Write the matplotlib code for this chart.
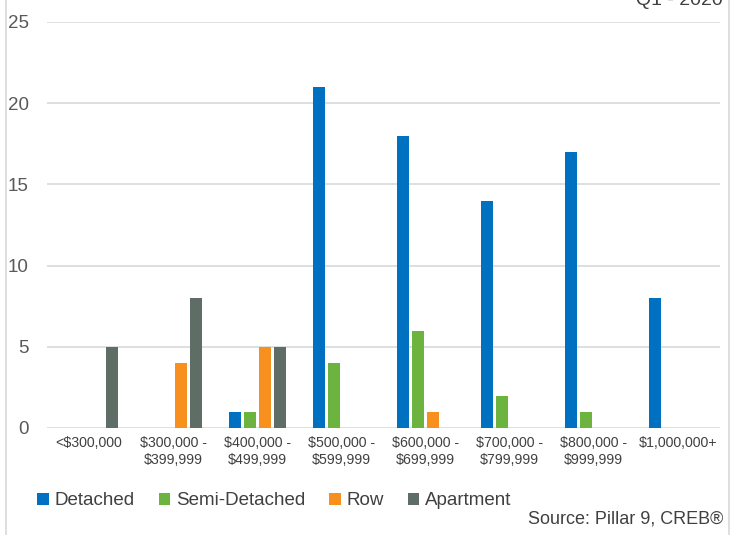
import numpy as np
import matplotlib
matplotlib.use('Agg')
import matplotlib.pyplot as plt
from matplotlib.lines import Line2D
from matplotlib.patches import Patch

plt.rcParams['font.family'] = ['Liberation Sans', 'DejaVu Sans']

# Data
categories = ['<$300,000', '$300,000 -\n$399,999', '$400,000 -\n$499,999', '$500,000 -\n$599,999',
              '$600,000 -\n$699,999', '$700,000 -\n$799,999', '$800,000 -\n$999,999', '$1,000,000+']
detached = [0, 0, 1, 21, 18, 14, 17, 8]
semi_detached = [0, 0, 1, 4, 6, 2, 1, 0]
row = [0, 4, 5, 0, 1, 0, 0, 0]
apartment = [5, 8, 5, 0, 0, 0, 0, 0]
series_names = ['Detached', 'Semi-Detached', 'Row', 'Apartment']

colors = ['#0070C0', '#6DB33F', '#F7901E', '#5E6E66']
series = [detached, semi_detached, row, apartment]

fig = plt.figure(figsize=(7.34, 5.35), dpi=100)
ax = fig.add_axes([0.064, 0.2, 0.917, 0.759])

x = np.arange(len(categories))
step = 0.18
width = 0.143
for i, (vals, c) in enumerate(zip(series, colors)):
    ax.bar(x + (i - 1.5) * step, vals, width=width, color=c, zorder=3)

ax.set_xlim(-0.5, len(categories) - 0.5)
ax.set_ylim(0, 25)
ax.set_yticks([0, 5, 10, 15, 20, 25])
ax.yaxis.grid(True, color='#D9D9D9', linewidth=1.2, zorder=0)
for s in ax.spines.values():
    s.set_visible(False)
ax.tick_params(axis='both', length=0)
ax.tick_params(axis='y', labelsize=13.5, labelcolor='#595959', pad=13)
ax.set_xticks(x)
ax.set_xticklabels(categories, fontsize=10.2, color='#404040')
ax.tick_params(axis='x', pad=6)

handles = [Patch(facecolor=c, edgecolor='none') for c in colors]
fig.legend(handles, series_names, loc='center left', bbox_to_anchor=(0.028, 0.064), ncol=4,
           frameon=False, fontsize=13.5, handlelength=0.6, handleheight=0.6,
           handletextpad=0.3, columnspacing=1.3, labelcolor='#404040')

fig.text(0.985, 0.014, 'Source: Pillar 9, CREB®', ha='right', va='bottom', fontsize=13, color='#404040')
fig.text(0.985, 0.99, 'Q1 - 2020', ha='right', va='baseline', fontsize=14, color='#404040')

# frame lines at left and right edges
fig.add_artist(Line2D([0.008, 0.008], [0, 1], color='#D9D9D9', linewidth=1.2))
fig.add_artist(Line2D([0.993, 0.993], [0, 1], color='#D9D9D9', linewidth=1.2))

fig.savefig('out.png', dpi=100)
